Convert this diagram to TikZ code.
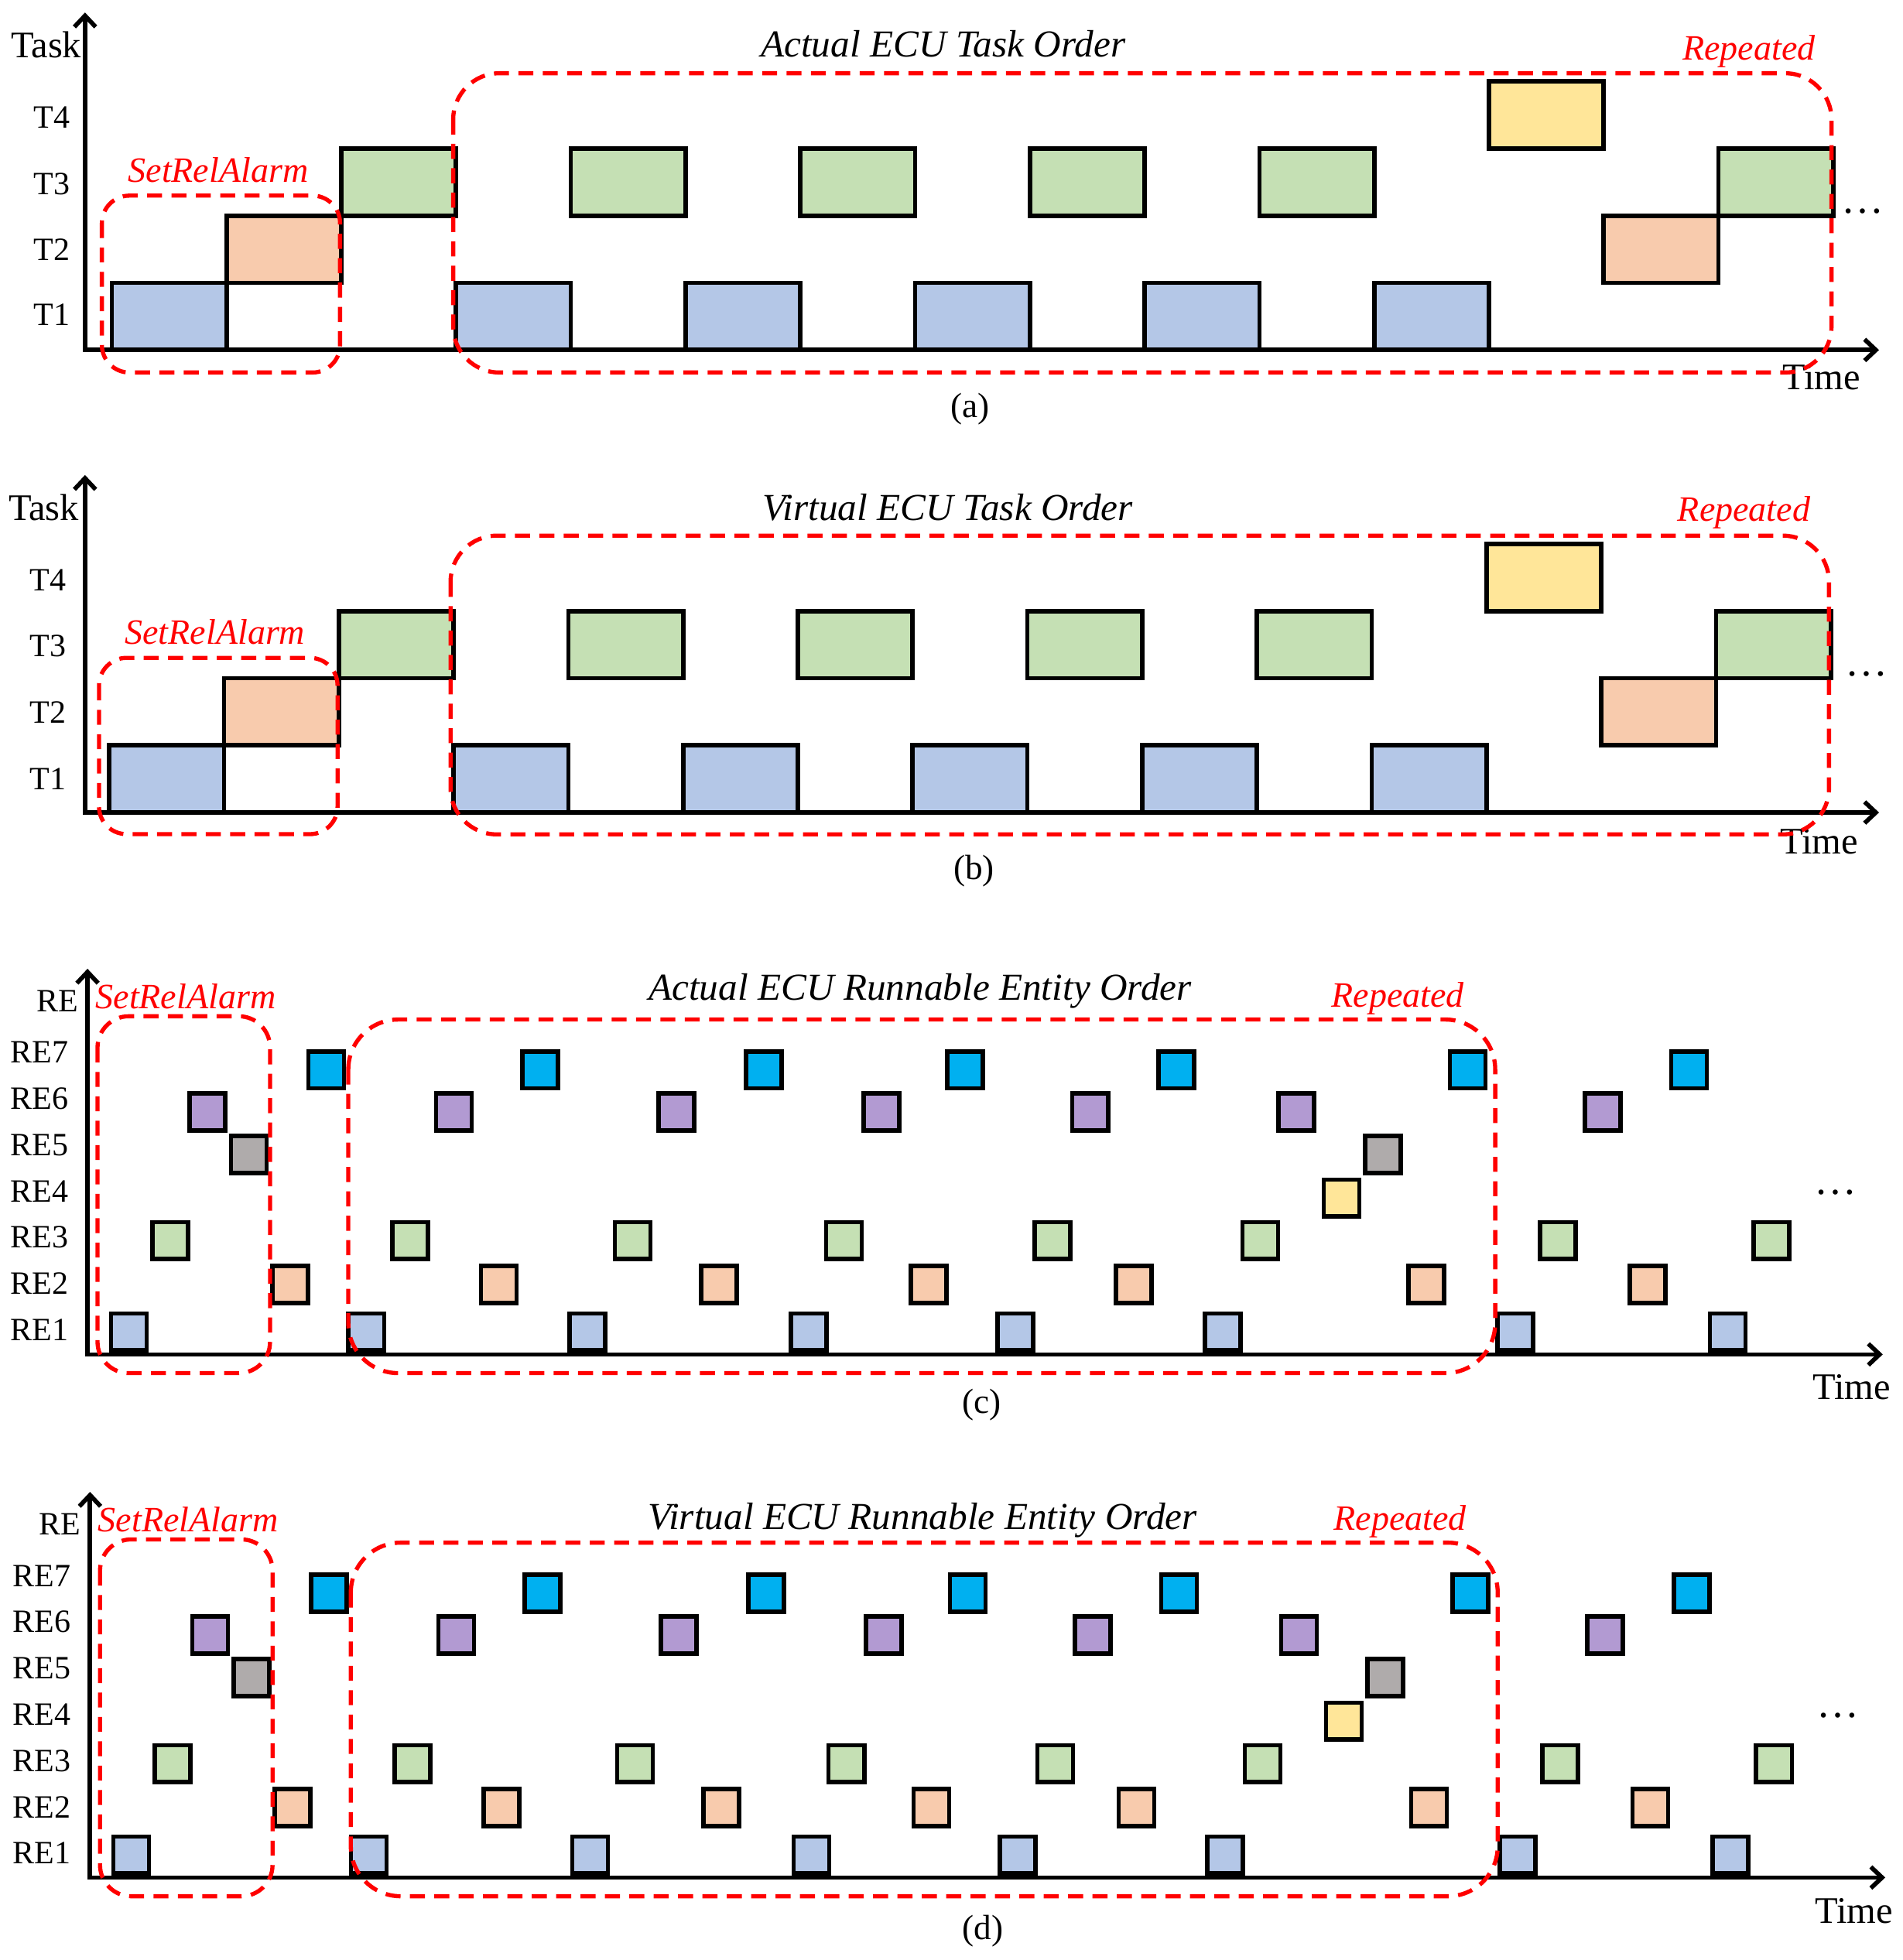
\documentclass[tikz,border=0pt]{standalone}
\usepackage{fontspec}
\setmainfont{Liberation Serif}
\usetikzlibrary{arrows.meta}
\definecolor{cblue}{HTML}{B4C7E7}
\definecolor{corange}{HTML}{F8CBAD}
\definecolor{cgreen}{HTML}{C5E0B4}
\definecolor{cyellow}{HTML}{FFE699}
\definecolor{ccyan}{HTML}{00B0F0}
\definecolor{cpurple}{HTML}{B29AD2}
\definecolor{cgray}{HTML}{AFABAB}
\definecolor{cred}{HTML}{FF0000}

\newcommand{\taskpanel}[3]{% #1 prefix, #2 y shift, #3 box x offset
 \begin{scope}[shift={(0,#2)}]
  \foreach \s/\r/\c [count=\i] in {0/1/cblue,1/2/corange,2/3/cgreen,3/1/cblue,4/3/cgreen,5/1/cblue,6/3/cgreen,7/1/cblue,8/3/cgreen,9/1/cblue,10/3/cgreen,11/1/cblue,12/4/cyellow,13/2/corange,14/3/cgreen}
   {\node[taskbox, fill=\c] (#1box\i) at ({89.4+#3+91.8*(\s+0.5)}, {280-53.7*(\r-0.5)}) {};}
  \coordinate (#1top) at (68,10);
  \coordinate (#1org) at (68,280);
  \coordinate (#1end) at (1503,280);
  \draw[axisline] (#1top) -- (#1org) -- (#1end);
 \end{scope}}

\newcommand{\repanel}[3]{% #1 prefix, #2 x shift, #3 y shift
 \begin{scope}[shift={(#2,#3)}]
  \foreach \x [count=\i] in {261,432,611,772,941,1174,1351}
   {\node[rebox, fill=ccyan] (#1cy\i) at (\x,856) {};}
  \foreach \x [count=\i] in {166,363,541,705,872,1037,1282}
   {\node[rebox, fill=cpurple] (#1pu\i) at (\x,889.5) {};}
  \foreach \x [count=\i] in {199,1106}
   {\node[rebox, fill=cgray] (#1gy\i) at (\x,923.5) {};}
  \node[rebox, fill=cyellow] (#1ye1) at (1073,958.5) {};
  \foreach \x [count=\i] in {136,328,506,675,842,1008,1246,1417}
   {\node[rebox, fill=cgreen] (#1gr\i) at (\x,992.5) {};}
  \foreach \x [count=\i] in {232,399,575,743,907,1141,1318}
   {\node[rebox, fill=corange] (#1or\i) at (\x,1027.5) {};}
  \foreach \x [count=\i] in {103,293,470,647,812,978,1212,1382}
   {\node[rebox, fill=cblue] (#1bl\i) at (\x,1065.5) {};}
  \coordinate (#1top) at (70,775);
  \coordinate (#1org) at (70,1083.5);
  \coordinate (#1end) at (1506,1083.5);
  \draw[axisline] (#1top) -- (#1org) -- (#1end);
  \foreach \n/\y in {7/842,6/879,5/916,4/953,3/990,2/1027,1/1064}
   {\node[lbl] (#1lab\n) at (31.5,\y) {RE\n};}
  \node[lbl] (#1ylab) at (46,801) {RE};
  \node[redlbl] (#1srl) at (148.5,797) {SetRelAlarm};
  \node[redlbl] (#1rep) at (1118,799) {Repeated};
  \node[axtitle] (#1xlab) at (1481,1110) {Time};
  \node[dotlbl] (#1dots) at (1468,954) {…};
  \draw[region, rounded corners=25pt] (78,813) rectangle (216,1098.5);
  \draw[region, rounded corners=40pt] (278.6,815.6) rectangle (1196,1098.5);
 \end{scope}}

\begin{document}
\begin{tikzpicture}[x=1pt,y=-1pt,
  taskbox/.style={draw=black, line width=3.5pt, minimum width=91.8pt, minimum height=53.7pt, inner sep=0pt, outer sep=0pt},
  rebox/.style={draw=black, line width=3.5pt, minimum width=28.5pt, minimum height=29.5pt, inner sep=0pt, outer sep=0pt},
  axisline/.style={line width=3.5pt, line join=miter, {Straight Barb[length=9pt,width=17pt]}-{Straight Barb[length=9pt,width=17pt]}},
  region/.style={draw=cred, line width=3.3pt, dash pattern=on 12pt off 7.5pt},
  lbl/.style={font=\fontsize{26}{30}\selectfont, inner sep=0pt},
  dotlbl/.style={font=\fontsize{34}{38}\selectfont, inner sep=0pt},
  axtitle/.style={font=\fontsize{30}{34}\selectfont, inner sep=0pt},
  ttl/.style={font=\fontsize{30.5}{35}\selectfont\itshape, inner sep=0pt},
  redlbl/.style={text=cred, font=\fontsize{28.5}{33}\selectfont\itshape, inner sep=0pt},
  capt/.style={font=\fontsize{28}{32}\selectfont, inner sep=0pt}]
\useasboundingbox (0,0) rectangle (1522,1568);

% ---------- (a) ----------
\taskpanel{a}{0}{0}
\foreach \n/\y in {4/94,3/147,2/200,1/252}{\node[lbl] (alab\n) at (41.5,\y) {T\n};}
\node[axtitle] (aylab) at (37,36) {Task};
\node[ttl] (atitle) at (754.5,35) {Actual ECU Task Order};
\node[redlbl] (arep) at (1399,41) {Repeated};
\node[redlbl] (asrl) at (174.5,136) {SetRelAlarm};
\node[axtitle] (axlab) at (1457,302) {Time};
\node[capt] (acap) at (776,327) {(a)};
\node[dotlbl] (adots) at (1490,169) {…};
\draw[region, rounded corners=22pt] (81.5,156.5) rectangle (272,298);
\draw[region, rounded corners=37pt] (362.5,58.6) rectangle (1465,298);

% ---------- (b) ----------
\taskpanel{b}{370}{-2}
\foreach \n/\y in {4/464,3/517,2/570,1/623}{\node[lbl] (blab\n) at (38.5,\y) {T\n};}
\node[axtitle] (bylab) at (35,406) {Task};
\node[ttl] (btitle) at (758,406) {Virtual ECU Task Order};
\node[redlbl] (brep) at (1395,410) {Repeated};
\node[redlbl] (bsrl) at (172,505.5) {SetRelAlarm};
\node[axtitle] (bxlab) at (1455,673) {Time};
\node[capt] (bcap) at (779,697) {(b)};
\node[dotlbl] (bdots) at (1493,539) {…};
\draw[region, rounded corners=22pt] (79.2,526.3) rectangle (270,667.3);
\draw[region, rounded corners=37pt] (360.4,428.5) rectangle (1463,667.5);

% ---------- (c) ----------
\repanel{c}{0}{0}
\node[ttl] (ctitle) at (736,793) {Actual ECU Runnable Entity Order};
\node[capt] (ccap) at (785,1124) {(c)};

% ---------- (d) ----------
\repanel{d}{2}{418.5}
\node[ttl] (dtitle) at (738,1216) {Virtual ECU Runnable Entity Order};
\node[capt] (dcap) at (786,1545) {(d)};
\end{tikzpicture}
\end{document}
